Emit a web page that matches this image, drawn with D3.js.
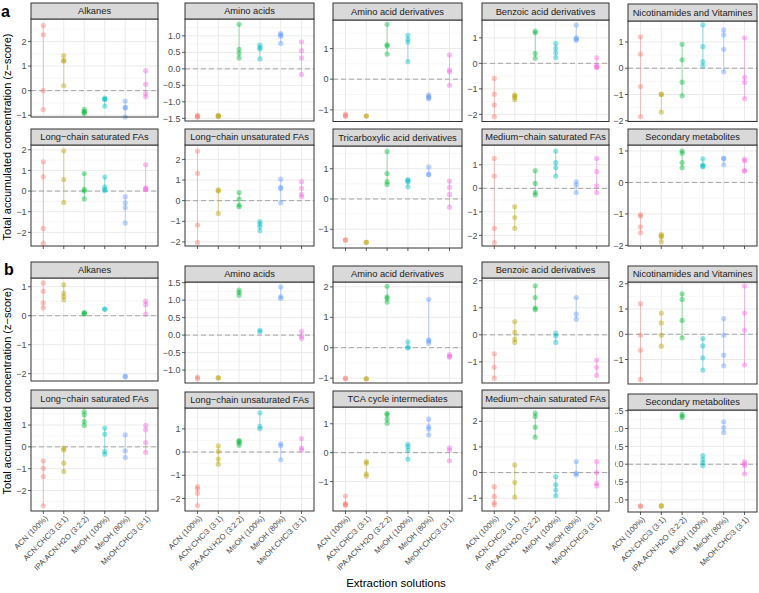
<!DOCTYPE html>
<html><head><meta charset="utf-8">
<script src="https://cdn.jsdelivr.net/npm/d3@7"></script>
<style>body{margin:0;background:#fff}svg{font-family:"Liberation Sans",Arial,sans-serif}</style>
</head><body>
<svg id="c" width="759" height="593"></svg>
<script>
// ---------------- DATA ----------------
const categories = ["ACN (100%)","ACN:CHCl3 (3:1)","IPA:ACN:H2O (3:2:2)","MeOH (100%)","MeOH (80%)","MeOH:CHCl3 (3:1)"];
const titlesA = ["Alkanes","Amino acids","Amino acid derivatives","Benzoic acid derivatives","Nicotinamides and Vitamines",
  "Long\u2212chain saturated FAs","Long\u2212chain unsaturated FAs","Tricarboxylic acid derivatives","Medium\u2212chain saturated FAs","Secondary metabolites"];
const titlesB = ["Alkanes","Amino acids","Amino acid derivatives","Benzoic acid derivatives","Nicotinamides and Vitamines",
  "Long\u2212chain saturated FAs","Long\u2212chain unsaturated FAs","TCA cycle intermediates","Medium\u2212chain saturated FAs","Secondary metabolites"];

// replicate z-scores per extraction solution (order = categories)
const a_alkanes = [[2.65,2.27,0,-0.77],[1.42,1.22,1.2,0.2],[-0.76,-0.84,-0.88,-0.93],[-0.3,-0.34,-0.36,-0.63],[-0.42,-0.68,-0.7,-1.07],[0.81,0.26,-0.13,-0.25]];
const a_aminoAcids = [[-1.41,-1.44,-1.46],[-1.41,-1.43,-1.44],[1.35,0.59,0.47,0.33],[0.72,0.65,0.6,0.3],[1.07,1.03,0.99,0.77],[0.82,0.55,0.33,-0.17]];
const a_aaDerivatives = [[-1.14,-1.18,-1.22],[-1.2,-1.2],[1.79,1.12,1.08,0.82],[1.43,1.3,1.21,0.57],[-0.51,-0.57,-0.6,-0.64],[0.79,0.3,0.24,-0.2]];
const a_benzoic = [[-0.59,-1.21,-1.63,-2.09],[-1.24,-1.27,-1.34,-1.43],[1.26,1.2,0.39,0.2],[0.78,0.59,0.42,0.23],[1.5,1.0,0.95,0.91],[0.22,-0.1,-0.14,-0.16]];
const a_nicotinamides = [[1.2,0.54,-0.7,-1.84],[-0.99,-1.0,-1.67],[0.91,0.32,-0.53,-1.05],[1.65,0.82,0.25,0.09],[1.46,1.27,0.72,-0.13],[1.16,-0.35,-0.54,-1.16]];
const a_lcSaturated = [[1.42,0.69,-1.81,-2.53],[1.95,0.56,-0.55],[0.85,0.08,0.0,-0.38],[0.68,0.2,0.08,0.02],[-0.27,-0.57,-0.8,-1.55],[1.28,0.15,0.1,0.07]];
const a_lcUnsaturated = [[2.41,1.33,-1.18,-2.04],[0.52,0.47,-0.62],[0.39,0.08,-0.21,-0.29],[-1.02,-1.13,-1.26,-1.46],[1.04,0.65,0.58,-0.1],[0.92,0.6,0.31,0.19]];
const a_tricarboxylic = [[-1.34,-1.37],[-1.43,-1.43],[1.57,0.84,0.57,0.48],[0.64,0.6,0.57,0.4],[1.06,0.82,0.8],[0.59,0.38,0.15,-0.27]];
const a_mcSaturated = [[1.27,0.52,-1.7,-2.31],[-0.78,-1.24,-1.7],[0.75,0.21,-0.18,-0.28],[1.58,1.09,0.88,0.52],[0.28,0.14,-0.18],[1.27,0.71,0.1,-0.18]];
const a_secondary = [[-1.02,-1.07,-1.41,-1.6],[-1.65,-1.7,-1.73,-1.89],[1.0,0.93,0.63,0.47],[0.75,0.56,0.52,0.5],[0.77,0.75,0.56],[0.74,0.69,0.38,0.36]];

const b_alkanes = [[1.13,0.84,0.44,0.27],[1.07,0.78,0.67,0.55],[0.12,0.08,0.06],[0.23,0.22],[-2.08,-2.1],[0.5,0.38,0.06]];
const b_aminoAcids = [[-1.2,-1.25],[-1.22,-1.22],[1.29,1.22,1.14],[0.14,0.1],[1.38,1.1,1.05],[0.11,-0.03,-0.1]];
const b_aaDerivatives = [[-1.0,-1.02],[-1.02,-1.02],[2.02,1.67,1.62,1.5],[0.19,0.02,-0.01],[1.59,0.26,0.22,0.15],[-0.23,-0.28,-0.31]];
const b_benzoic = [[-0.7,-1.2,-1.6],[0.49,0.09,-0.16,-0.28],[1.81,1.38,0.99,0.93],[0.06,-0.04,-0.28],[1.38,0.77,0.58],[-0.93,-1.2,-1.5]];
const b_nicotinamides = [[1.21,-0.04,-0.63,-1.79],[0.84,0.45,-0.04,-0.47],[1.6,1.38,0.55,-0.14],[-0.17,-0.46,-0.93,-1.42],[0.62,-0.04,-0.83,-1.25],[1.91,0.84,0.16,-1.22]];
const b_lcSaturated = [[-0.64,-0.98,-1.36,-2.7],[-0.06,-0.14,-0.75,-1.13],[1.62,1.47,1.16,0.98],[0.86,0.58,-0.21,-0.34],[0.55,-0.18,-0.49],[0.98,0.78,0.2,-0.25]];
const b_lcUnsaturated = [[-1.49,-1.58,-1.77,-2.31],[0.27,0.03,-0.3,-0.52],[0.5,0.46,0.39,0.29],[1.69,1.11,1.01],[0.36,0.27,-0.33],[0.58,0.17,0.1]];
const b_tca = [[-1.5,-1.76,-1.8,-1.82],[-0.31,-0.37,-0.74,-0.81],[1.36,1.31,1.16,1.02],[0.29,0.21,0.09,-0.23],[1.16,0.9,0.82,0.61],[0.17,0.09,-0.28]];
const b_mcSaturated = [[-0.55,-0.93,-1.17,-1.26],[0.3,-0.39,-0.96],[2.32,2.19,1.77,1.38],[-0.16,-0.48,-0.68,-0.9],[0.43,-0.03,-0.09],[0.43,0,-0.42,-0.52]];
const b_secondary = [[-1.17,-1.18],[-1.17,-1.17],[1.4,1.35,1.31],[0.24,0.13,0.04,-0.04],[1.19,1.03,0.89],[0.07,0.01,-0.04,-0.27]];

// y tick labels per panel
const ticksA = [[-1,0,1,2],[-1.5,-1,-0.5,0,0.5,1],[-1,0,1],[-2,-1,0,1],[-2,-1,0,1],
                [-2,-1,0,1,2],[-2,-1,0,1,2],[-1,0,1],[-2,-1,0,1],[-2,-1,0,1]];
const ticksB = [[-2,-1,0,1],[-1,-0.5,0,0.5,1,1.5],[-1,0,1,2],[-1,0,1,2],[-1,0,1,2],
                [-2,-1,0,1],[-2,-1,0,1],[-1,0,1],[-1,0,1,2],[-1,-0.5,0,0.5,1,1.5]];
const decimalsA = [0,1,0,0,0,0,0,0,0,0];
const decimalsB = [0,1,0,0,0,0,0,0,0,1];

const dataA = [a_alkanes,a_aminoAcids,a_aaDerivatives,a_benzoic,a_nicotinamides,a_lcSaturated,a_lcUnsaturated,a_tricarboxylic,a_mcSaturated,a_secondary];
const dataB = [b_alkanes,b_aminoAcids,b_aaDerivatives,b_benzoic,b_nicotinamides,b_lcSaturated,b_lcUnsaturated,b_tca,b_mcSaturated,b_secondary];

const colors = ["#F8766D","#B79F00","#00BA38","#00BFC4","#619CFF","#F564E3"];

// ---------------- LAYOUT ----------------
const cols = [[31,158],[185,314],[333,462],[482,609],[628,757]];
// [stripTop, panelTop, panelBottom, domainLo, domainHi]
const layA = [[3,19,117,-1.07,2.91],[3,19,121,-1.58,1.51],[3,20,121.5,-1.38,1.93],[3,20,121.5,-2.28,1.7],[4,21,121.5,-2.03,1.8],
              [129,145,246,-2.66,2.23],[129,145,246,-2.2,2.7],[129,146,248,-1.62,1.75],[129,145,246,-2.45,1.84],[129,145,246,-2.02,1.19]];
const layB = [[262,278,381,-2.25,1.3],[266,282,383,-1.37,1.52],[266,282,383,-1.16,2.16],[262,278,383,-1.78,2.1],[266,282,384,-1.97,2.07],
              [390,408,511,-2.94,1.78],[392,408,511,-2.54,1.9],[391,407,511,-2.02,1.58],[390,408,511,-1.5,2.52],[394,410,512,-1.34,1.52]];

const svg = d3.select("#c");
svg.append("defs").append("clipPath").attr("id","clipB10").append("rect").attr("x",615).attr("y",380).attr("width",150).attr("height",140);

const minus = s => s.replace("-","\u2212");

function drawPanel(title, data, ticks, dec, lay, col, showTicks, showLabels, clipLabels){
  const [x0,x1] = col;
  const [st, top, bot, lo, hi] = lay;
  const g = svg.append("g");
  const x = d3.scalePoint().domain(categories).range([x0,x1]).padding(0.6);
  const y = d3.scaleLinear().domain([lo,hi]).range([bot,top]);
  g.append("rect").attr("x",x0).attr("y",top).attr("width",x1-x0).attr("height",bot-top).attr("fill","#fff");
  const step = ticks[1]-ticks[0];
  const minors = [];
  for(let v = ticks[0]-step/2; v <= hi; v += step){ if(v>=lo && v<=hi) minors.push(v); }
  g.selectAll(".mn").data(minors).enter().append("line")
    .attr("x1",x0).attr("x2",x1).attr("y1",d=>y(d)).attr("y2",d=>y(d))
    .attr("stroke","#F2F2F2").attr("stroke-width",0.6);
  g.selectAll(".mj").data(ticks).enter().append("line")
    .attr("x1",x0).attr("x2",x1).attr("y1",d=>y(d)).attr("y2",d=>y(d))
    .attr("stroke","#EBEBEB").attr("stroke-width",1);
  g.selectAll(".vx").data(categories).enter().append("line")
    .attr("x1",d=>x(d)).attr("x2",d=>x(d)).attr("y1",top).attr("y2",bot)
    .attr("stroke","#EBEBEB").attr("stroke-width",1);
  g.append("line").attr("x1",x0).attr("x2",x1).attr("y1",y(0)).attr("y2",y(0))
    .attr("stroke","#A6A6A6").attr("stroke-width",1).attr("stroke-dasharray","5,3");
  data.forEach((vals,i)=>{
    g.append("line").attr("x1",x(categories[i])).attr("x2",x(categories[i]))
      .attr("y1",y(d3.min(vals))).attr("y2",y(d3.max(vals)))
      .attr("stroke",colors[i]).attr("stroke-opacity",0.4).attr("stroke-width",1);
  });
  data.forEach((vals,i)=>{
    g.selectAll(null).data(vals).enter().append("circle")
      .attr("cx",x(categories[i])).attr("cy",d=>y(d)).attr("r",2.6)
      .attr("fill",colors[i]).attr("fill-opacity",0.42);
  });
  g.append("rect").attr("x",x0).attr("y",top).attr("width",x1-x0).attr("height",bot-top)
    .attr("fill","none").attr("stroke","#333").attr("stroke-width",1);
  g.append("rect").attr("x",x0).attr("y",st).attr("width",x1-x0).attr("height",top-st)
    .attr("fill","#D9D9D9").attr("stroke","#333").attr("stroke-width",1);
  g.append("text").attr("x",(x0+x1)/2).attr("y",(st+top)/2).attr("dy","0.35em")
    .attr("text-anchor","middle").attr("font-size",9.3).attr("fill","#1A1A1A").text(title);
  const yl = g.append("g");
  if(clipLabels) yl.attr("clip-path","url(#clipB10)");
  ticks.forEach(t=>{
    g.append("line").attr("x1",x0-3).attr("x2",x0).attr("y1",y(t)).attr("y2",y(t)).attr("stroke","#333").attr("stroke-width",0.8);
    yl.append("text").attr("x",x0-4.5).attr("y",y(t)).attr("dy","0.35em").attr("text-anchor","end")
      .attr("font-size",9).attr("fill","#4D4D4D").text(minus(d3.format("."+dec+"f")(t)));
  });
  if(showTicks){
    categories.forEach(c=>{
      g.append("line").attr("x1",x(c)).attr("x2",x(c)).attr("y1",bot).attr("y2",bot+3).attr("stroke","#333").attr("stroke-width",0.8);
    });
  }
  if(showLabels){
    categories.forEach(c=>{
      g.append("text").attr("transform",`translate(${x(c)+3},${bot+6}) rotate(-45)`)
        .attr("text-anchor","end").attr("dy","0.35em").attr("font-size",7.8).attr("fill","#4D4D4D").text(c);
    });
  }
}

for(let i=0;i<10;i++){
  drawPanel(titlesA[i], dataA[i], ticksA[i], decimalsA[i], layA[i], cols[i%5], i>=5, false, false);
}
for(let i=0;i<10;i++){
  drawPanel(titlesB[i], dataB[i], ticksB[i], decimalsB[i], layB[i], cols[i%5], i>=5, i>=5, i===9);
}

svg.append("text").attr("transform","translate(11,137) rotate(-90)").attr("text-anchor","middle")
  .attr("font-size",11).attr("fill","#000").text("Total accumulated concentration (z\u2212score)");
svg.append("text").attr("transform","translate(11,391) rotate(-90)").attr("text-anchor","middle")
  .attr("font-size",11).attr("fill","#000").text("Total accumulated concentration (z\u2212score)");
svg.append("text").attr("x",396).attr("y",587).attr("text-anchor","middle")
  .attr("font-size",11.5).attr("fill","#000").text("Extraction solutions");
svg.append("text").attr("x",1).attr("y",17).attr("font-size",16).attr("font-weight","bold").text("a");
svg.append("text").attr("x",4).attr("y",275).attr("font-size",16).attr("font-weight","bold").text("b");
</script>
</body></html>
